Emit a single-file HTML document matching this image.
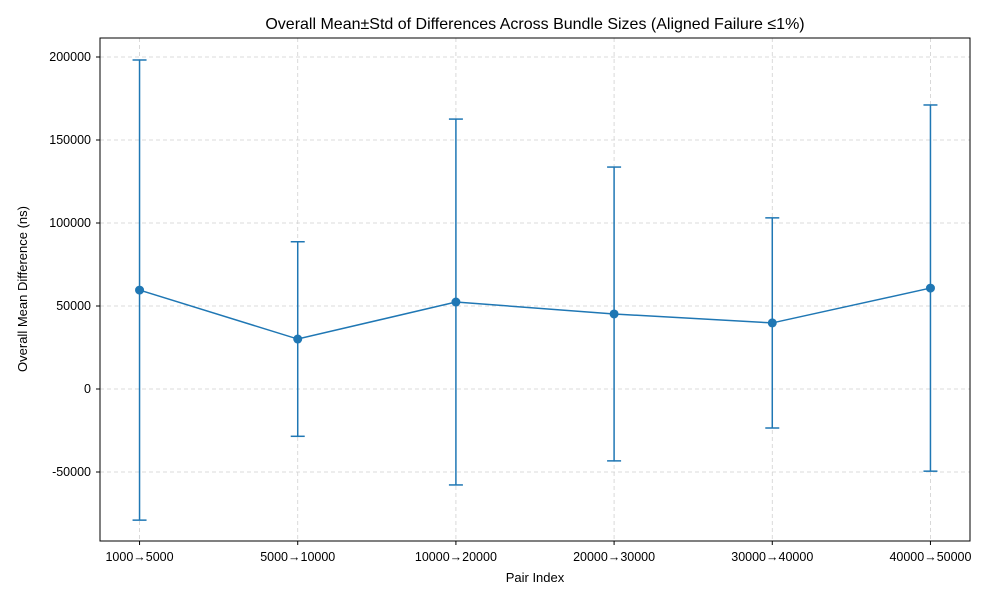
<!DOCTYPE html>
<html><head><meta charset="utf-8"><style>
body{margin:0;background:#fff;font-family:"Liberation Sans","DejaVu Sans",sans-serif;}
svg text{font-family:"Liberation Sans","DejaVu Sans",sans-serif;}
</style></head><body>
<svg id="chart" width="1000" height="600" xmlns="http://www.w3.org/2000/svg">
<rect width="1000" height="600" fill="#fff"/>
<g id="grid"></g><g id="series"></g><g id="axes"></g>
<text x="535" y="29" text-anchor="middle" font-size="16">Overall Mean±Std of Differences Across Bundle Sizes (Aligned Failure ≤1%)</text>
<text x="535" y="582" text-anchor="middle" font-size="13">Pair Index</text>
<text transform="translate(27,289) rotate(-90)" text-anchor="middle" font-size="13">Overall Mean Difference (ns)</text>
</svg>
<script>
const categories=["1000→5000","5000→10000","10000→20000","20000→30000","30000→40000","40000→50000"];
const means=[59600,30100,52400,45200,39800,60800];
const stds=[138600,58600,110200,88500,63300,110300];
const yTicks=[-50000,0,50000,100000,150000,200000];
const L=100,R=970,T=38,B=541,ymin=-91570,ymax=211450;
const NS="http://www.w3.org/2000/svg";
const xs=i=>L+(i+0.25)/(categories.length-0.5)*(R-L);
const ys=v=>B-(v-ymin)/(ymax-ymin)*(B-T);
function mk(parent,tag,attrs){const e=document.createElementNS(NS,tag);for(const k in attrs)e.setAttribute(k,attrs[k]);document.getElementById(parent).appendChild(e);return e;}
yTicks.forEach(v=>{
 const g=mk('grid','line',{x1:L,x2:R,y1:ys(v),y2:ys(v),stroke:'#d0d0d0','stroke-dasharray':'4,3','stroke-width':0.8});
 
 const t=mk('axes','line',{x1:L-4,x2:L,y1:ys(v),y2:ys(v),stroke:'#000'});
 
 const l=mk('axes','text',{x:L-9,y:ys(v)+4,'text-anchor':'end','font-size':12.5});l.textContent=v;
 
});
categories.forEach((c,i)=>{
 const g=mk('grid','line',{x1:xs(i),x2:xs(i),y1:T,y2:B,stroke:'#d0d0d0','stroke-dasharray':'4,3','stroke-width':0.8});
 
 const t=mk('axes','line',{x1:xs(i),x2:xs(i),y1:B,y2:B+4,stroke:'#000'});
 
 const l=mk('axes','text',{x:xs(i),y:B+20,'text-anchor':'middle','font-size':12.5});l.textContent=c;
 
});
const fr=mk('axes','rect',{x:L,y:T,width:R-L,height:B-T,fill:'none',stroke:'#000','stroke-width':1});

const C='#1f77b4';
means.forEach((m,i)=>{
 const x=xs(i),y1=ys(m+stds[i]),y2=ys(m-stds[i]);
 const e=mk('series','line',{x1:x,x2:x,y1:y1,y2:y2,stroke:C,'stroke-width':1.5});
 
 [y1,y2].forEach(y=>{const c=mk('series','line',{x1:x-7,x2:x+7,y1:y,y2:y,stroke:C,'stroke-width':1.5});
  });
});
const ln=mk('series','polyline',{points:means.map((m,i)=>xs(i)+','+ys(m)).join(' '),fill:'none',stroke:C,'stroke-width':1.5});

means.forEach((m,i)=>{const p=mk('series','circle',{cx:xs(i),cy:ys(m),r:4.5,fill:C});
 });
</script>
</body></html>
